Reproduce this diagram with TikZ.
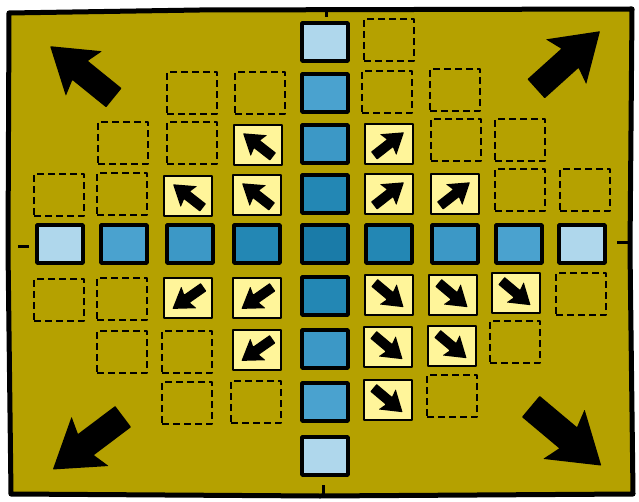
\documentclass[tikz,border=0pt]{standalone}
\definecolor{bgolive}{HTML}{B5A100}
\definecolor{cellyellow}{HTML}{FFF59A}
\definecolor{blueA}{HTML}{1A7BA8}
\definecolor{blueB}{HTML}{2387B4}
\definecolor{blueC}{HTML}{3C98C6}
\definecolor{blueD}{HTML}{4AA2CF}
\definecolor{blueE}{HTML}{AFD7EC}
\tikzset{
  cellbase/.style={inner sep=0pt, line join=round},
  bluecell/.style={cellbase, minimum width=46pt, minimum height=38pt, draw=black, line width=3.6pt, fill=#1},
  yelcell/.style={cellbase, minimum width=48pt, minimum height=40pt, draw=black, line width=2.4pt, fill=cellyellow},
  dashcell/.style={cellbase, minimum width=50pt, minimum height=42pt, draw=black, line width=1.9pt, dash pattern=on 7pt off 4pt},
  tickline/.style={line width=3pt, black},
}
\newcommand\arrowat[4]{%
  \fill[black, rounded corners=0.6pt, shift={(#1)}, rotate=#2, scale=#3]
    (-0.5,-#4) -- (0.03,-#4) -- (-0.03,-0.35) -- (0.5,0) -- (-0.03,0.35) -- (0.03,#4) -- (-0.5,#4) -- cycle;}
\begin{document}
\begin{tikzpicture}[x=1pt,y=-1pt]
\useasboundingbox (0,0) rectangle (639,502);
\fill[white] (0,0) rectangle (639,502);
% frame
\draw[line width=5pt, fill=bgolive, line join=round]
  (9,13) -- (200,10) -- (632,9) -- (630,250) -- (633,494) -- (320,496) -- (11,494) -- (8,250) -- cycle;
% ticks
\coordinate (tT1) at (326,9);  \coordinate (tT2) at (326,17);
\coordinate (tB1) at (323,485); \coordinate (tB2) at (323,494);
\coordinate (tL1) at (18,247); \coordinate (tL2) at (29,247);
\coordinate (tR1) at (617,243); \coordinate (tR2) at (629,243);
\draw[tickline] (tT1) -- (tT2);
\draw[tickline] (tB1) -- (tB2);
\draw[tickline] (tL1) -- (tL2);
\draw[tickline] (tR1) -- (tR2);
% dashed cells
\node[dashcell] (d1) at (389,40) {};
\node[dashcell] (d2) at (192,93) {};
\node[dashcell] (d3) at (260,93) {};
\node[dashcell] (d4) at (387,92) {};
\node[dashcell] (d5) at (455,90) {};
\node[dashcell] (d6) at (123,143) {};
\node[dashcell] (d7) at (192,143) {};
\node[dashcell] (d8) at (456,140) {};
\node[dashcell] (d9) at (520,140) {};
\node[dashcell] (d10) at (59,195) {};
\node[dashcell] (d11) at (122,194) {};
\node[dashcell] (d12) at (520,190) {};
\node[dashcell] (d13) at (585,190) {};
\node[dashcell] (d14) at (59,300) {};
\node[dashcell] (d15) at (122,299) {};
\node[dashcell] (d16) at (581,294) {};
\node[dashcell] (d17) at (122,352) {};
\node[dashcell] (d18) at (187,352) {};
\node[dashcell] (d19) at (515,342) {};
\node[dashcell] (d20) at (187,403) {};
\node[dashcell] (d21) at (256,402) {};
\node[dashcell] (d22) at (452,396) {};
% blue column (col 0)
\node[bluecell=blueE] (b0m4) at (325,42) {};
\node[bluecell=blueD] (b0m3) at (325,93) {};
\node[bluecell=blueC] (b0m2) at (325,144) {};
\node[bluecell=blueB] (b0m1) at (325,194) {};
\node[bluecell=blueA] (b00) at (325,244) {};
\node[bluecell=blueB] (b0p1) at (325,296) {};
\node[bluecell=blueC] (b0p2) at (325,349) {};
\node[bluecell=blueD] (b0p3) at (325,402) {};
\node[bluecell=blueE] (b0p4) at (325,456) {};
% blue row (row 0)
\node[bluecell=blueE] (bm40) at (60,244) {};
\node[bluecell=blueD] (bm30) at (124,244) {};
\node[bluecell=blueC] (bm20) at (190,244) {};
\node[bluecell=blueB] (bm10) at (257,244) {};
\node[bluecell=blueB] (bp10) at (389,244) {};
\node[bluecell=blueC] (bp20) at (455,244) {};
\node[bluecell=blueD] (bp30) at (519,244) {};
\node[bluecell=blueE] (bp40) at (582,244) {};
% yellow cells
\node[yelcell] (ynw1) at (258,145) {};
\node[yelcell] (ynw2) at (188,196) {};
\node[yelcell] (ynw3) at (257,195) {};
\node[yelcell] (yne1) at (389,144) {};
\node[yelcell] (yne2) at (389,194) {};
\node[yelcell] (yne3) at (455,194) {};
\node[yelcell] (ysw1) at (188,298) {};
\node[yelcell] (ysw2) at (257,298) {};
\node[yelcell] (ysw3) at (257,350) {};
\node[yelcell] (yse1) at (389,295) {};
\node[yelcell] (yse2) at (453,295) {};
\node[yelcell] (yse3) at (516,293) {};
\node[yelcell] (yse4) at (388,347) {};
\node[yelcell] (yse5) at (452,346) {};
\node[yelcell] (yse6) at (388,400) {};
% small arrows
\arrowat{ynw1}{142}{38}{0.13}
\arrowat{ynw2}{142}{38}{0.13}
\arrowat{ynw3}{142}{38}{0.13}
\arrowat{yne1}{38}{38}{0.13}
\arrowat{yne2}{38}{38}{0.13}
\arrowat{yne3}{38}{38}{0.13}
\arrowat{ysw1}{215}{38}{0.13}
\arrowat{ysw2}{215}{38}{0.13}
\arrowat{ysw3}{215}{38}{0.13}
\arrowat{yse1}{-40}{38}{0.13}
\arrowat{yse2}{-40}{38}{0.13}
\arrowat{yse3}{-40}{38}{0.13}
\arrowat{yse4}{-40}{38}{0.13}
\arrowat{yse5}{-40}{38}{0.13}
\arrowat{yse6}{-40}{38}{0.13}
% big corner arrows
\coordinate (cnw) at (82,72);
\coordinate (cne) at (568,60);
\coordinate (csw) at (88,443);
\coordinate (cse) at (566,436);
\arrowat{cnw}{141}{82}{0.15}
\arrowat{cne}{42}{86}{0.15}
\arrowat{csw}{217}{88}{0.15}
\arrowat{cse}{-40}{92}{0.15}
\end{tikzpicture}
\end{document}
